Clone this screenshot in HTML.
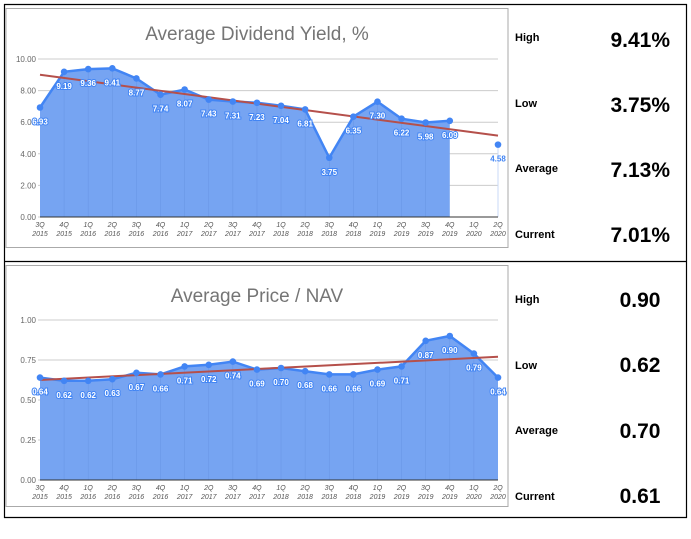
<!DOCTYPE html>
<html><head><meta charset="utf-8"><style>
body{margin:0;background:#fff;font-family:"Liberation Sans",sans-serif}
svg text{font-family:"Liberation Sans",sans-serif}
</style></head><body>
<svg width="691" height="534" xmlns="http://www.w3.org/2000/svg">
<g stroke="#000" stroke-width="1.2">
<line x1="4" y1="4.5" x2="687" y2="4.5"/><line x1="4" y1="261.5" x2="687" y2="261.5"/><line x1="4" y1="517.5" x2="687" y2="517.5"/>
<line x1="4.5" y1="4" x2="4.5" y2="518"/><line x1="686.5" y1="4" x2="686.5" y2="518"/>
</g>
<rect x="6" y="8.5" width="502" height="239" fill="#fff" stroke="#aaa"/>
<rect x="6" y="265.5" width="502" height="241" fill="#fff" stroke="#aaa"/>
<text x="257" y="40" text-anchor="middle" font-size="19" fill="#757575">Average Dividend Yield, %</text>
<text x="257" y="302" text-anchor="middle" font-size="19" fill="#757575">Average Price / NAV</text>
<g id="c1"></g><g id="c2"></g>
<g font-weight="bold" fill="#000">
<text x="515" y="41" font-size="11">High</text>
<text x="670" y="47" font-size="21" text-anchor="end">9.41%</text>
<text x="515" y="107" font-size="11">Low</text>
<text x="670" y="112" font-size="21" text-anchor="end">3.75%</text>
<text x="515" y="172" font-size="11">Average</text>
<text x="670" y="177" font-size="21" text-anchor="end">7.13%</text>
<text x="515" y="238" font-size="11">Current</text>
<text x="670" y="242" font-size="21" text-anchor="end">7.01%</text>
<text x="515" y="303" font-size="11">High</text>
<text x="640" y="307" font-size="21" text-anchor="middle">0.90</text>
<text x="515" y="369" font-size="11">Low</text>
<text x="640" y="372" font-size="21" text-anchor="middle">0.62</text>
<text x="515" y="434" font-size="11">Average</text>
<text x="640" y="438" font-size="21" text-anchor="middle">0.70</text>
<text x="515" y="500" font-size="11">Current</text>
<text x="640" y="503" font-size="21" text-anchor="middle">0.61</text>
</g>
</svg>
<script>
const quarters=["3Q","4Q","1Q","2Q","3Q","4Q","1Q","2Q","3Q","4Q","1Q","2Q","3Q","4Q","1Q","2Q","3Q","4Q","1Q","2Q"];
const years=["2015","2015","2016","2016","2016","2016","2017","2017","2017","2017","2018","2018","2018","2018","2019","2019","2019","2019","2020","2020"];
const yieldValues=[6.93,9.19,9.36,9.41,8.77,7.74,8.07,7.43,7.31,7.23,7.04,6.81,3.75,6.35,7.30,6.22,5.98,6.09,null,4.58];
const yieldTrend=[9.0,5.15];
const yieldTicks=["0.00","2.00","4.00","6.00","8.00","10.00"];
const pnavValues=[0.64,0.62,0.62,0.63,0.67,0.66,0.71,0.72,0.74,0.69,0.70,0.68,0.66,0.66,0.69,0.71,0.87,0.90,0.79,0.64];
const pnavTrend=[0.625,0.77];
const pnavTicks=["0.00","0.25","0.50","0.75","1.00"];
const NS="http://www.w3.org/2000/svg";
function mk(p,t,a){const e=document.createElementNS(NS,t);for(const k in a)e.setAttribute(k,a[k]);p.appendChild(e);return e;}
function draw(g,vals,trend,ticks,max,top,bot,name){
 const x0=40,x1=498;
 const X=i=>x0+i*(x1-x0)/(vals.length-1);
 const Y=v=>bot-(v/max)*(bot-top);
 ticks.forEach(t=>{const y=Y(+t);
  const l=mk(g,'line',{x1:x0-2,x2:x1,y1:y,y2:y,stroke:'#ccc'});
  
  
  const tx=mk(g,'text',{x:x0-4,y:y+3,'text-anchor':'end','font-size':8,fill:'#666'});tx.textContent=t;
  
  
 });
 // area segments
 let seg=[];const segs=[];
 vals.forEach((v,i)=>{if(v==null){if(seg.length)segs.push(seg);seg=[];}else seg.push(i);});
 if(seg.length)segs.push(seg);
 segs.forEach(s=>{
  if(s.length<2){const i=s[0];const l=mk(g,'line',{x1:X(i),x2:X(i),y1:Y(vals[i]),y2:bot,stroke:'#c9d9f7'});
   
   return;}
  let d='M'+X(s[0])+','+bot;s.forEach(i=>d+=' L'+X(i)+','+Y(vals[i]));d+=' L'+X(s[s.length-1])+','+bot+'Z';
  const a=mk(g,'path',{d:d,fill:'#76a4f2'});
  
  
  let ld='';s.forEach((i,k)=>ld+=(k?' L':'M')+X(i)+','+Y(vals[i]));
  const ln=mk(g,'path',{d:ld,fill:'none',stroke:'#4285f4','stroke-width':2.5});
  
  
  s.forEach(i=>{if(i>0&&i<s.length-1+s[0]){const v=mk(g,'line',{x1:X(i),x2:X(i),y1:Y(vals[i]),y2:bot,stroke:'#6a97e6','stroke-width':0.6});
   
   }});
 });
 const ax=mk(g,'line',{x1:x0,x2:x1,y1:bot,y2:bot,stroke:'#333'});
 
 
 const tr=mk(g,'line',{x1:x0,x2:x1,y1:Y(trend[0]),y2:Y(trend[1]),stroke:'#b5504b','stroke-width':2});
 
 
 vals.forEach((v,i)=>{
  const q=mk(g,'text',{x:X(i),y:bot+10,'text-anchor':'middle','font-size':7,'font-style':'italic',fill:'#555'});q.textContent=quarters[i];
  
  
  const yr=mk(g,'text',{x:X(i),y:bot+19,'text-anchor':'middle','font-size':7,'font-style':'italic',fill:'#555'});yr.textContent=years[i];
  
  
  if(v==null)return;
  const c=mk(g,'circle',{cx:X(i),cy:Y(v),r:3.3,fill:'#4285f4'});
  
  
  const iso=(vals[i-1]==null&&i>0);
  const lb=mk(g,'text',{x:X(i),y:Y(v)+17,'text-anchor':'middle','font-size':8,fill:iso?'#4285f4':'#fff',stroke:iso?'none':'#4285f4','stroke-width':2,'paint-order':'stroke','font-weight':'bold'});
  lb.textContent=v.toFixed(2);
  
  
 });
}
draw(document.getElementById('c1'),yieldValues,yieldTrend,yieldTicks,10,59,217,'yield');
draw(document.getElementById('c2'),pnavValues,pnavTrend,pnavTicks,1,320,480,'pnav');
</script>
</body></html>
